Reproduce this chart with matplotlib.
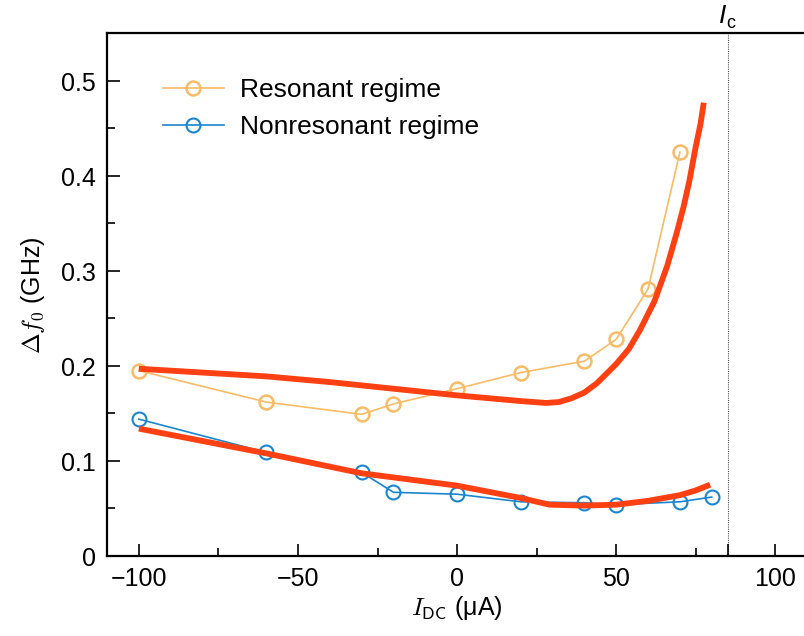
import matplotlib
matplotlib.use("Agg")
import matplotlib.pyplot as plt
from matplotlib.ticker import MultipleLocator, FixedLocator

plt.rcParams["font.family"] = ["Liberation Sans", "DejaVu Sans"]
plt.rcParams["mathtext.fontset"] = "cm"

# Measured frequency shift vs DC bias current
i_res = [-100, -60, -30, -20, 0, 20, 40, 50, 60, 70]
df_res = [0.195, 0.162, 0.149, 0.160, 0.176, 0.193, 0.205, 0.228, 0.281, 0.425]

i_nonres = [-100, -60, -30, -20, 0, 20, 40, 50, 70, 80]
df_nonres = [0.144, 0.109, 0.088, 0.067, 0.065, 0.057, 0.056, 0.054, 0.057, 0.062]

# Model curves
i_fit_res = [-100, -80, -60, -40, -20, 0, 10, 20, 28, 32, 36, 40, 44, 47, 50,
             54, 57.5, 62, 66, 69, 71.2, 73, 75, 76.5, 77.5]
df_fit_res = [0.197, 0.193, 0.189, 0.183, 0.176, 0.169, 0.166, 0.163, 0.161,
              0.162, 0.166, 0.172, 0.182, 0.192, 0.202, 0.218, 0.238, 0.268,
              0.305, 0.340, 0.368, 0.395, 0.431, 0.455, 0.477]

i_fit_nonres = [-100, -60, -30, 0, 20, 29, 40, 50, 60, 70, 75, 79.5]
df_fit_nonres = [0.134, 0.108, 0.087, 0.074, 0.061, 0.054, 0.053, 0.054,
                 0.058, 0.064, 0.069, 0.075]

i_critical = 85

x_ticks = [-100, -50, 0, 50, i_critical, 100]
x_ticklabels = ["\u2212100", "\u221250", "0", "50", "", "100"]
y_ticks = [0, 0.1, 0.2, 0.3, 0.4, 0.5]
y_ticklabels = ["0", "0.1", "0.2", "0.3", "0.4", "0.5"]

c_res = "#f9bb66"
c_nonres = "#1a86d0"
c_fit = "#ff4012"

fig = plt.figure(figsize=(8.042, 6.362), dpi=100)
ax = fig.add_axes([107 / 804, 80 / 636, 700 / 804, 522.5 / 636])

ax.plot(i_res, df_res, "-o", color=c_res, lw=1.2, ms=10, mfc="none",
        mew=1.8, label="Resonant regime", zorder=3)
ax.plot(i_nonres, df_nonres, "-o", color=c_nonres, lw=1.2, ms=10, mfc="none",
        mew=1.5, label="Nonresonant regime", zorder=3)
ax.plot(i_fit_res, df_fit_res, "-", color=c_fit, lw=4.2, zorder=4,
        solid_capstyle="butt")
ax.plot(i_fit_nonres, df_fit_nonres, "-", color=c_fit, lw=4.2, zorder=4,
        solid_capstyle="butt")

ax.axvline(i_critical, color="#555555", lw=0.8, ls=(0, (1, 1)), zorder=1)

ax.set_xlim(-110, 110)
ax.set_ylim(0, 0.55)
ax.set_xticks(x_ticks)
ax.set_xticklabels(x_ticklabels)
ax.xaxis.set_minor_locator(FixedLocator([-75, -25, 25, 75]))
ax.set_yticks(y_ticks)
ax.set_yticklabels(y_ticklabels)
ax.yaxis.set_minor_locator(MultipleLocator(0.05))

ax.tick_params(which="both", direction="in", labelsize=18, width=1.2,
               top=False, right=False, pad=8)
ax.tick_params(which="major", length=9)
ax.tick_params(which="minor", length=5.5)
for s in ax.spines.values():
    s.set_linewidth(1.6)
ax.spines["right"].set_visible(False)

ax.annotate("I", xy=(i_critical, 0.55), xycoords="data",
            xytext=(-6, 4), textcoords="offset points",
            fontsize=19, style="italic", ha="left", va="bottom",
            annotation_clip=False)
ax.annotate("c", xy=(i_critical, 0.55), xycoords="data",
            xytext=(-1, 1), textcoords="offset points",
            fontsize=13, ha="left", va="bottom", annotation_clip=False)

ax.set_xlabel(r"$I_{\mathsf{DC}}$ (μA)", fontsize=18, labelpad=2)
ax.set_ylabel(r"$\Delta f_0$ (GHz)", fontsize=18, labelpad=10)

ax.legend(loc="upper left", bbox_to_anchor=(0.065, 0.935), frameon=False,
          fontsize=19, handlelength=2.3, handletextpad=0.6, labelspacing=0.5,
          borderaxespad=0)

fig.savefig("out.png", dpi=100)
